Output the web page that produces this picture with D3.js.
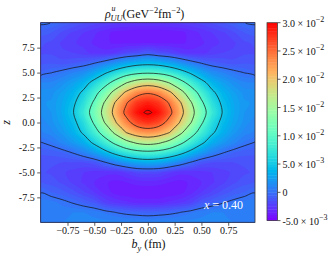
<!DOCTYPE html>
<html>
<head>
<meta charset="utf-8">
<script src="https://cdn.jsdelivr.net/npm/d3@7/dist/d3.min.js"></script>
<style>
  body { margin: 0; background: #fff; }
  svg { display: block; font-family: "Liberation Serif", "Times New Roman", serif; }
</style>
</head>
<body>
<svg id="chart" width="335" height="259"></svg>
<script>
// grid columns (b_y, fm) and rows (z), top row first
const bys = [-1.0, -0.9, -0.8, -0.7, -0.6, -0.5, -0.4, -0.3, -0.2, -0.1, 0.0, 0.1, 0.2, 0.3, 0.4, 0.5, 0.6, 0.7, 0.8, 0.9, 1.0];
const zs = [10, 9, 8, 7, 6, 5, 4, 3, 2, 1, 0, -1, -2, -3, -4, -5, -6, -7, -8, -9, -10];

// rho_UU^u (GeV^-2 fm^-2), one row per z value
const rho = [
  [0.0002, -0.00002, -0.0006, -0.0010, -0.0014, -0.0018, -0.0021, -0.0023, -0.0024, -0.0025, -0.0025, -0.0025, -0.0024, -0.0023, -0.0021, -0.0018, -0.0014, -0.0010, -0.0006, -0.00002, 0.0002],
  [-0.0008, -0.0010, -0.0016, -0.0021, -0.0025, -0.0029, -0.0033, -0.0037, -0.0038, -0.0039, -0.0039, -0.0039, -0.0038, -0.0037, -0.0033, -0.0029, -0.0025, -0.0021, -0.0016, -0.0010, -0.0008],
  [-0.0014, -0.0016, -0.0021, -0.0024, -0.0027, -0.0031, -0.0034, -0.0036, -0.0036, -0.0036, -0.0036, -0.0036, -0.0036, -0.0036, -0.0034, -0.0031, -0.0027, -0.0024, -0.0021, -0.0016, -0.0014],
  [-0.0016, -0.0016, -0.0019, -0.0020, -0.0023, -0.0027, -0.0028, -0.0025, -0.0019, -0.0016, -0.00095, -0.0016, -0.0019, -0.0025, -0.0028, -0.0027, -0.0023, -0.0020, -0.0019, -0.0016, -0.0016],
  [-0.0012, -0.0011, -0.0013, -0.0011, -0.0008, -0.0002, 0.0006, 0.0017, 0.0027, 0.0035, 0.0038, 0.0035, 0.0027, 0.0017, 0.0006, -0.0002, -0.0008, -0.0011, -0.0013, -0.0011, -0.0012],
  [-0.0004, -0.00003, 0.0004, 0.0010, 0.0016, 0.0029, 0.0046, 0.0064, 0.0080, 0.0091, 0.0095, 0.0091, 0.0080, 0.0064, 0.0046, 0.0029, 0.0016, 0.0010, 0.0004, -0.00003, -0.0004],
  [0.0010, 0.0011, 0.0017, 0.0026, 0.0038, 0.0059, 0.0085, 0.0115, 0.0148, 0.0171, 0.0180, 0.0171, 0.0148, 0.0115, 0.0085, 0.0059, 0.0038, 0.0026, 0.0017, 0.0011, 0.0010],
  [0.0017, 0.0018, 0.0026, 0.0037, 0.0055, 0.0085, 0.0123, 0.0168, 0.0208, 0.0236, 0.0246, 0.0236, 0.0208, 0.0168, 0.0123, 0.0085, 0.0055, 0.0037, 0.0026, 0.0018, 0.0017],
  [0.0019, 0.0021, 0.0030, 0.0044, 0.0068, 0.0106, 0.0154, 0.0204, 0.0247, 0.0276, 0.0286, 0.0276, 0.0247, 0.0204, 0.0154, 0.0106, 0.0068, 0.0044, 0.0030, 0.0021, 0.0019],
  [0.0016, 0.0020, 0.0031, 0.0048, 0.0078, 0.0118, 0.0166, 0.0216, 0.0261, 0.0293, 0.0304, 0.0293, 0.0261, 0.0216, 0.0166, 0.0118, 0.0078, 0.0048, 0.0031, 0.0020, 0.0016],
  [0.0012, 0.0018, 0.0028, 0.0042, 0.0065, 0.0105, 0.0152, 0.0198, 0.0238, 0.0268, 0.0278, 0.0268, 0.0238, 0.0198, 0.0152, 0.0105, 0.0065, 0.0042, 0.0028, 0.0018, 0.0012],
  [0.0009, 0.0013, 0.0022, 0.0035, 0.0054, 0.0083, 0.0119, 0.0160, 0.0201, 0.0223, 0.0231, 0.0223, 0.0201, 0.0160, 0.0119, 0.0083, 0.0054, 0.0035, 0.0022, 0.0013, 0.0009],
  [-0.00005, 0.0004, 0.0012, 0.0022, 0.0034, 0.0056, 0.0082, 0.0110, 0.0137, 0.0157, 0.0165, 0.0157, 0.0137, 0.0110, 0.0082, 0.0056, 0.0034, 0.0022, 0.0012, 0.0004, -0.00005],
  [-0.0009, -0.0008, -0.0005, 0.0001, 0.0010, 0.0024, 0.0041, 0.0060, 0.0076, 0.0087, 0.0091, 0.0087, 0.0076, 0.0060, 0.0041, 0.0024, 0.0010, 0.0001, -0.0005, -0.0008, -0.0009],
  [-0.0013, -0.0014, -0.0015, -0.0015, -0.0015, -0.0012, -0.0001, 0.0010, 0.0021, 0.0029, 0.00325, 0.0029, 0.0021, 0.0010, -0.0001, -0.0012, -0.0015, -0.0015, -0.0015, -0.0014, -0.0013],
  [-0.0014, -0.0016, -0.0019, -0.0022, -0.0025, -0.0027, -0.0028, -0.0028, -0.0024, -0.0018, -0.00175, -0.0018, -0.0024, -0.0028, -0.0028, -0.0027, -0.0025, -0.0022, -0.0019, -0.0016, -0.0014],
  [-0.0010, -0.0012, -0.0016, -0.0021, -0.0026, -0.0030, -0.0034, -0.0037, -0.0035, -0.0033, -0.0032, -0.0033, -0.0035, -0.0037, -0.0034, -0.0030, -0.0026, -0.0021, -0.0016, -0.0012, -0.0010],
  [-0.00005, -0.0005, -0.0008, -0.0013, -0.0019, -0.0025, -0.0032, -0.0037, -0.0039, -0.0040, -0.0040, -0.0040, -0.0039, -0.0037, -0.0032, -0.0025, -0.0019, -0.0013, -0.0008, -0.0005, -0.00005],
  [0.0007, 0.0007, 0.0003, -0.0001, -0.0006, -0.0011, -0.0021, -0.0026, -0.0029, -0.0032, -0.0032, -0.0032, -0.0029, -0.0026, -0.0021, -0.0011, -0.0006, -0.0001, 0.0003, 0.0007, 0.0007],
  [0.0009, 0.0009, 0.0009, 0.0010, 0.0010, 0.0008, 0.0004, -0.00002, -0.0003, -0.0005, -0.0006, -0.0005, -0.0003, -0.00002, 0.0004, 0.0008, 0.0010, 0.0010, 0.0009, 0.0009, 0.0009],
  [0.0010, 0.0010, 0.0010, 0.0011, 0.0012, 0.0012, 0.0012, 0.0012, 0.0012, 0.0012, 0.0011, 0.0012, 0.0012, 0.0012, 0.0012, 0.0012, 0.0012, 0.0011, 0.0010, 0.0010, 0.0010]
];

const lineLevels = [0, 0.005, 0.01, 0.015, 0.02, 0.025, 0.03];
const xTicks = [-0.75, -0.5, -0.25, 0, 0.25, 0.5, 0.75];
const zTicks = [-7.5, -5, -2.5, 0, 2.5, 5, 7.5];
const cbTicks = [-0.005, 0, 0.005, 0.01, 0.015, 0.02, 0.025, 0.03];
const cbMant = ['-5.0', '0', '5.0', '1.0', '1.5', '2.0', '2.5', '3.0'];
const cbExp = ['\u22123', null, '\u22123', '\u22122', '\u22122', '\u22122', '\u22122', '\u22122'];
const annot = '0.40';

const vMin = -0.005, vMax = 0.03, bandStep = 0.0005;
const bands = d3.range(0, Math.round((vMax - vMin) / bandStep)).map(i => vMin + i * bandStep);

const svg = d3.select('#chart');
const x = d3.scaleLinear().domain([-1, 1]).range([40.7, 255]);
const y = d3.scaleLinear().domain([-10, 10]).range([222.3, 22.7]);
const cb = d3.scaleLinear().domain([vMin, vMax]).range([220.6, 22.7]);

// matplotlib "rainbow"
const tNorm = d3.scaleLinear().domain([vMin, vMax]).range([0, 1]).clamp(true);
function rainbow(v) {
  const t = tNorm(v);
  return d3.rgb(255 * Math.min(1, Math.abs(2 * t - 0.5)), 255 * Math.sin(Math.PI * t), 255 * Math.cos(Math.PI * t / 2)).formatHex();
}

// grid coords -> pixels (sample i sits at i + 0.5)
const nx = bys.length, ny = zs.length;
const gx = d3.scaleLinear().domain([0.5, nx - 0.5]).range([x(bys[0]), x(bys[nx - 1])]);
const gy = d3.scaleLinear().domain([0.5, ny - 0.5]).range([y(zs[0]), y(zs[ny - 1])]);
const values = rho.flat();
const ring = d3.line().x(p => gx(p[0])).y(p => gy(p[1])).curve(d3.curveCatmullRomClosed);
const shapePath = mp => mp.coordinates.map(poly => poly.map(r => ring(r.slice(0, -1))).join('')).join('');

svg.append('clipPath').attr('id', 'clip')
  .append('rect').attr('x', x(-1)).attr('y', y(10)).attr('width', x(1) - x(-1)).attr('height', y(-10) - y(10));

const plot = svg.append('g').attr('clip-path', 'url(#clip)');

// filled bands
d3.contours().size([nx, ny]).thresholds(bands)(values).forEach(c => {
  plot.append('path')
    .attr('d', shapePath(c))
    .attr('fill', rainbow(c.value + bandStep / 2))
    .attr('fill-rule', 'evenodd');
});

// black contour lines
d3.contours().size([nx, ny]).thresholds(lineLevels)(values).forEach(c => {
  plot.append('path')
    .attr('d', shapePath(c))
    .attr('fill', 'none')
    .attr('stroke', '#151515')
    .attr('stroke-width', 0.8)
    .attr('stroke-opacity', 0.9);
});

// frame
svg.append('rect')
  .attr('x', x(-1)).attr('y', y(10)).attr('width', x(1) - x(-1)).attr('height', y(-10) - y(10))
  .attr('fill', 'none').attr('stroke', '#333').attr('stroke-width', 0.8);

// axes
const xAxis = svg.append('g').attr('transform', `translate(0,${y(-10)})`)
  .call(d3.axisBottom(x).tickValues(xTicks).tickSize(3.5).tickPadding(1.5)
    .tickFormat(d => (d < 0 ? '\u2212' : '') + Math.abs(d).toFixed(2)));
const zAxis = svg.append('g').attr('transform', `translate(${x(-1)},0)`)
  .call(d3.axisLeft(y).tickValues(zTicks).tickSize(3.5).tickPadding(2.5)
    .tickFormat(d => d.toFixed(1)));
[xAxis, zAxis].forEach(g => {
  g.attr('font-family', null).attr('font-size', 10);
  g.select('.domain').remove();
  g.selectAll('line').attr('stroke', '#333').attr('stroke-width', 0.8);
  g.selectAll('text').attr('fill', '#111');
});

// annotation
const an = svg.append('text').attr('x', 243).attr('y', 209).attr('text-anchor', 'end')
  .attr('font-size', 12).attr('fill', '#fff');
an.append('tspan').attr('font-style', 'italic').text('x');
an.append('tspan').text(' = ' + annot);

// colorbar
const cbG = svg.append('g');
bands.forEach(t => {
  cbG.append('rect')
    .attr('x', 267).attr('width', 10.5)
    .attr('y', cb(t + bandStep))
    .attr('height', cb(t) - cb(t + bandStep) + 0.4)
    .attr('fill', rainbow(t + bandStep / 2));
});
cbG.append('rect').attr('x', 267).attr('width', 10.5).attr('y', cb(vMax)).attr('height', cb(vMin) - cb(vMax))
  .attr('fill', 'none').attr('stroke', '#444').attr('stroke-width', 0.8);
cbTicks.forEach((v, i) => {
  cbG.append('line').attr('x1', 277.5).attr('x2', 280.5).attr('y1', cb(v)).attr('y2', cb(v))
    .attr('stroke', '#333').attr('stroke-width', 0.8);
  const t = cbG.append('text').attr('x', 282.5).attr('y', cb(v) + 4).attr('font-size', 10).attr('fill', '#111');
  t.append('tspan').text(cbMant[i]);
  if (cbExp[i]) {
    t.append('tspan').text(' \u00d7 10');
    t.append('tspan').attr('dy', -5).attr('font-size', 8).text(cbExp[i]);
  }
});

// title
const title = svg.append('text').attr('font-size', 12).attr('fill', '#111');
title.append('tspan').attr('x', 105).attr('y', 18).attr('font-style', 'italic').text('\u03c1');
title.append('tspan').attr('x', 111.5).attr('y', 10.5).attr('font-size', 8).attr('font-style', 'italic').text('u');
title.append('tspan').attr('x', 110.5).attr('y', 21).attr('font-size', 8.4).attr('font-style', 'italic').text('UU');
title.append('tspan').attr('x', 122.5).attr('y', 18).text('(GeV');
title.append('tspan').attr('dy', -5).attr('font-size', 8.4).text('\u22122');
title.append('tspan').attr('dy', 5).text('fm');
title.append('tspan').attr('dy', -5).attr('font-size', 8.4).text('\u22122');
title.append('tspan').attr('dy', 5).text(')');

// axis labels
const xl = svg.append('text').attr('font-size', 12).attr('fill', '#111');
xl.append('tspan').attr('x', 131.5).attr('y', 248).attr('font-style', 'italic').text('b');
xl.append('tspan').attr('dy', 3).attr('font-size', 8.4).attr('font-style', 'italic').text('y');
xl.append('tspan').attr('dy', -3).text(' (fm)');

svg.append('text').attr('transform', `translate(10,${y(0)}) rotate(-90)`)
  .attr('text-anchor', 'middle').attr('font-size', 12).attr('font-style', 'italic').attr('fill', '#111')
  .text('z');
</script>
</body>
</html>
